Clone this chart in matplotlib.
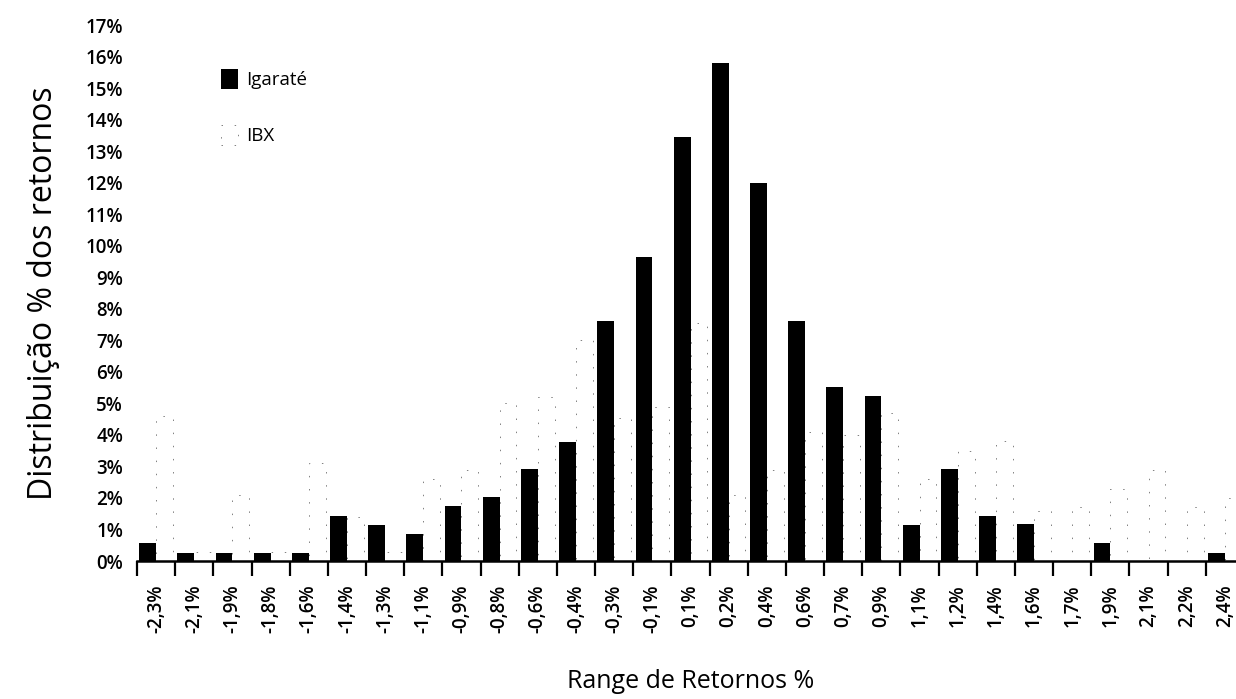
import matplotlib
matplotlib.use("Agg")
import matplotlib.pyplot as plt
import numpy as np

plt.rcParams['font.family'] = ['Open Sans', 'DejaVu Sans']

faixas = ['-2,3%', '-2,1%', '-1,9%', '-1,8%', '-1,6%', '-1,4%', '-1,3%', '-1,1%',
          '-0,9%', '-0,8%', '-0,6%', '-0,4%', '-0,3%', '-0,1%', '0,1%', '0,2%',
          '0,4%', '0,6%', '0,7%', '0,9%', '1,1%', '1,2%', '1,4%', '1,6%',
          '1,7%', '1,9%', '2,1%', '2,2%', '2,4%']

igarate = [0.57, 0.26, 0.26, 0.26, 0.26, 1.43, 1.14, 0.87,
           1.73, 2.04, 2.93, 3.78, 7.60, 9.64, 13.46, 15.80,
           11.99, 7.60, 5.53, 5.24, 1.15, 2.92, 1.43, 1.16,
           0.0, 0.56, 0.0, 0.0, 0.27]

ibx = [4.6, 0.3, 2.1, 0.3, 3.1, 1.4, 0.3, 2.6,
       2.9, 5.0, 5.2, 7.0, 4.55, 4.9, 7.55, 2.1,
       2.9, 4.1, 4.0, 4.7, 2.6, 3.5, 3.8, 1.6,
       1.7, 2.3, 2.9, 1.7, 2.0]

y_ticks = list(range(0, 18))

fig = plt.figure(figsize=(12.36, 6.99), dpi=100)
ax = fig.add_axes([137 / 1236, 0.1974, (1244 - 137) / 1236, 0.7668])

x = np.arange(len(faixas))
w = 0.44
ax.bar(x - w / 2, igarate, width=w, color='black', label='Igaraté')
ax.bar(x + w / 2, ibx, width=w, color='white', edgecolor='0.5',
       linewidth=0.7, linestyle=(0, (1.5, 12)), label='IBX')

ax.set_xlim(-0.5, len(faixas) - 0.5)
ax.set_ylim(0, 17)

ax.set_yticks(y_ticks)
ax.set_yticklabels([f'{v}%' for v in y_ticks], fontsize=13.5, fontweight='semibold')
ax.tick_params(axis='y', length=0, pad=10)

# category labels in the middle, tick marks on the boundaries
ax.set_xticks(x)
ax.set_xticklabels(faixas, rotation=90, fontsize=13.5, fontweight='semibold')
ax.set_xticks(np.arange(len(faixas) + 1) - 0.5, minor=True)
ax.tick_params(axis='x', which='major', length=0, pad=17)
ax.tick_params(axis='x', which='minor', length=11, width=1.6, color='black')

for side in ['left', 'right', 'top']:
    ax.spines[side].set_visible(False)
ax.spines['bottom'].set_linewidth(1.8)

ax.set_ylabel('Distribuição % dos retornos', fontsize=23, labelpad=18,
              fontweight='medium')
ax.set_xlabel('Range de Retornos %', fontsize=18, labelpad=26,
              fontweight='medium')

ax.legend(loc='upper left', bbox_to_anchor=(0.061, 0.95), frameon=False,
          prop={'size': 13.5}, handlelength=0.9, handleheight=1.3,
          labelspacing=1.9, handletextpad=0.4)

fig.savefig('out.png', dpi=100)
